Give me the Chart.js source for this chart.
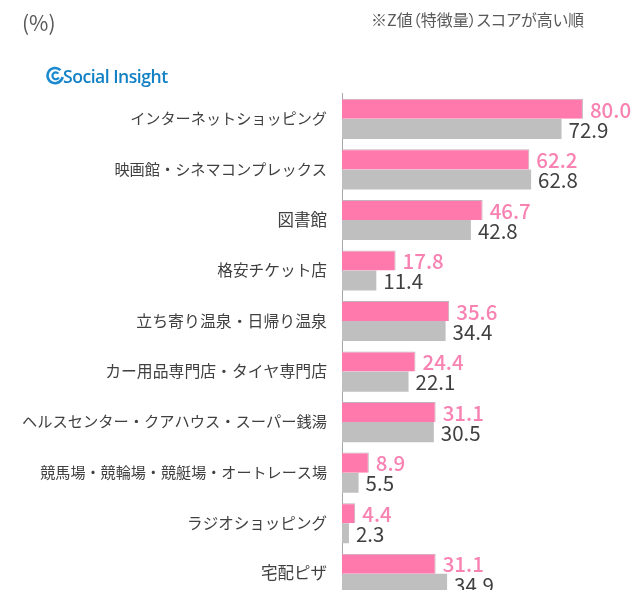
<!DOCTYPE html>
<html><head><meta charset="utf-8">
<style>html,body{margin:0;padding:0;background:#fff;overflow:hidden}
#w{position:relative;width:635px;height:590px;overflow:hidden}
canvas{position:absolute;left:0;top:0}
.t{position:absolute;font-family:"Noto Sans CJK JP";color:#595959;white-space:nowrap;line-height:1.2}
</style></head><body><div id="w">
<canvas id="c" width="635" height="640" style="width:635px;height:640px"></canvas>
<div class="t" style="left:22px;top:10px;font-size:21px">(%)</div>
<div class="t" style="left:371px;top:10px;font-size:16px;font-feature-settings:'palt' 1">※Z値（特徴量）スコアが高い順</div>
<div class="t" style="left:63px;top:66px;font-size:17.6px;font-weight:600;color:#1280c4;font-family:'Open Sans';letter-spacing:-0.5px">Social Insight</div>
<svg style="position:absolute;left:46px;top:66px" width="19" height="20"><path d="M14.5 4.2A7.6 7.6 0 1 0 16.6 11" fill="none" stroke="#1a8ad0" stroke-width="2.6"/><path d="M12.4 7.6A3.4 3.4 0 1 0 12.8 11.5" fill="none" stroke="#1a8ad0" stroke-width="2.2"/></svg>
</div>
<script src="https://cdn.jsdelivr.net/npm/chart.js@4"></script>
<script>
const categories=["インターネットショッピング","映画館・シネマコンプレックス","図書館","格安チケット店","立ち寄り温泉・日帰り温泉","カー用品専門店・タイヤ専門店","ヘルスセンター・クアハウス・スーパー銭湯","競馬場・競輪場・競艇場・オートレース場","ラジオショッピング","宅配ピザ"];
const pinkValues=[80.0,62.2,46.7,17.8,35.6,24.4,31.1,8.9,4.4,31.1];
const grayValues=[72.9,62.8,42.8,11.4,34.4,22.1,30.5,5.5,2.3,34.9];
const tickFontSizes=[15.15,15.2,16.5,15.7,15.9,15.85,15.25,15.1,15.55,16.5];
const labelPlugin={id:'lbl',afterDatasetsDraw(ch){const g=ch.ctx;
 ch.data.datasets.forEach((d,i)=>{ch.getDatasetMeta(i).data.forEach((b,j)=>{
  g.save();g.textBaseline='middle';g.textAlign='left';
  g.font=(i==0?'500 ':'400 ')+'20.5px "Noto Sans CJK JP"';g.fillStyle=i==0?'#f882b2':'#404040';
  g.fillText(d.data[j].toFixed(1),b.x+7,b.y+1);g.restore();});});}};
new Chart(document.getElementById('c'),{type:'bar',
 data:{labels:categories,datasets:[
  {data:pinkValues,backgroundColor:'#ff79ad',borderColor:'#c4b0b8',borderWidth:{top:1,right:1},categoryPercentage:0.794,barPercentage:1},
  {data:grayValues,backgroundColor:'#bfbfbf',categoryPercentage:0.794,barPercentage:1}]},
 options:{indexAxis:'y',responsive:false,animation:false,
  layout:{padding:{top:93.6,left:0,right:0,bottom:41}},
  plugins:{legend:{display:false},tooltip:{enabled:false}},
  scales:{x:{min:0,max:97.3,display:false},
   y:{afterFit(s){s.width=342},grid:{display:false,drawTicks:false},border:{color:'#a6a6a6',width:1},
    ticks:{color:'#404040',autoSkip:false,padding:15,labelOffset:-0.5,font:c=>({family:'"Noto Sans CJK JP"',size:tickFontSizes[c.index]})}}}},
 plugins:[labelPlugin]});
</script></body></html>
